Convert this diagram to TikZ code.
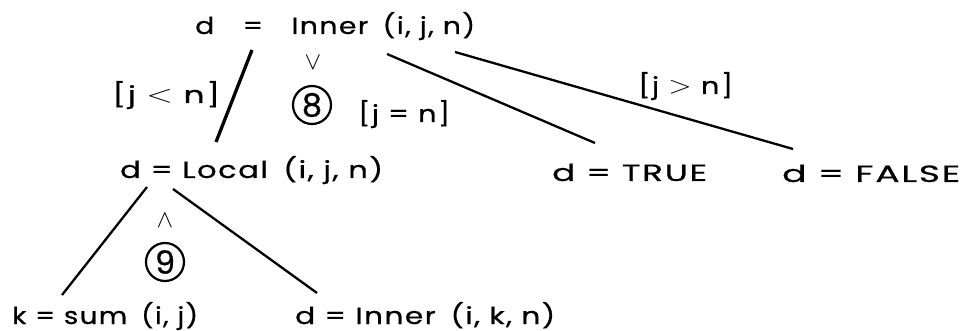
\documentclass[tikz,border=0pt]{standalone}
\usepackage{fontspec}
\setmainfont[LetterSpace=5,FakeBold=0.6]{Poppins}
\usepackage{graphicx}
\newcommand{\fitto}[2]{\resizebox{#1}{\height}{#2}}
\tikzset{
  lbl/.style={anchor=base west, inner sep=0pt, font=\fontsize{23.5}{28}\selectfont},
  num/.style={circle, draw, line width=2.2pt, minimum size=38pt, inner sep=0pt, font=\fontsize{32}{36}\selectfont},
  sym/.style={inner sep=0pt, font=\fontsize{24}{28}\selectfont},
  edgethin/.style={line width=2.3pt},
  edgethick/.style={line width=3.3pt}
}
\begin{document}
\begin{tikzpicture}[x=1pt,y=-1pt]
\useasboundingbox (0,0) rectangle (967,331);
% main texts
\node[lbl] (inner)  at (195,34)  {\fitto{280pt}{d\quad=\quad Inner\enspace(i, j, n)}};
\node[lbl] (local)  at (120,178) {\fitto{263pt}{d = Local\enspace(i, j, n)}};
\node[lbl] (true)   at (552,181) {\fitto{155pt}{d = TRUE}};
\node[lbl] (false)  at (782,182) {\fitto{178pt}{d = FALSE}};
\node[lbl] (sum)    at (12,324)  {\fitto{186pt}{k = sum\enspace(i, j)}};
\node[lbl] (inner2) at (295,324) {\fitto{260pt}{d = Inner\enspace(i, k, n)}};
% conditions
\node[lbl] (lt) at (112,103) {\fitto{108pt}{[j $<$ n]}};
\node[lbl] (eq) at (358,122) {\fitto{92pt}{[j = n]}};
\node[lbl] (gt) at (638,94)  {\fitto{95pt}{[j $>$ n]}};
% or / and marks with numbered circles
\node[sym] (vee)   at (313,63)  {$\vee$};
\node[sym] (wedge) at (165,221) {$\wedge$};
\node[num] (c8) at (312,105) {8};
\node[num] (c9) at (165,262) {9};
% connector ends
\coordinate (inner-l)  at (252,50);
\coordinate (local-t)  at (216,142);
\coordinate (inner-m)  at (387,54);
\coordinate (true-t)   at (595,143);
\coordinate (inner-r)  at (455,52);
\coordinate (false-t)  at (793,149);
\coordinate (local-l)  at (147,187);
\coordinate (sum-t)    at (62,295);
\coordinate (local-r)  at (173,189);
\coordinate (inner2-t) at (317,293);
% connectors
\draw[edgethick] (inner-l) -- (local-t);
\draw[edgethin] (inner-m) -- (true-t);
\draw[edgethin] (inner-r) -- (false-t);
\draw[edgethin] (local-l) -- (sum-t);
\draw[edgethin] (local-r) -- (inner2-t);
\end{tikzpicture}
\end{document}
